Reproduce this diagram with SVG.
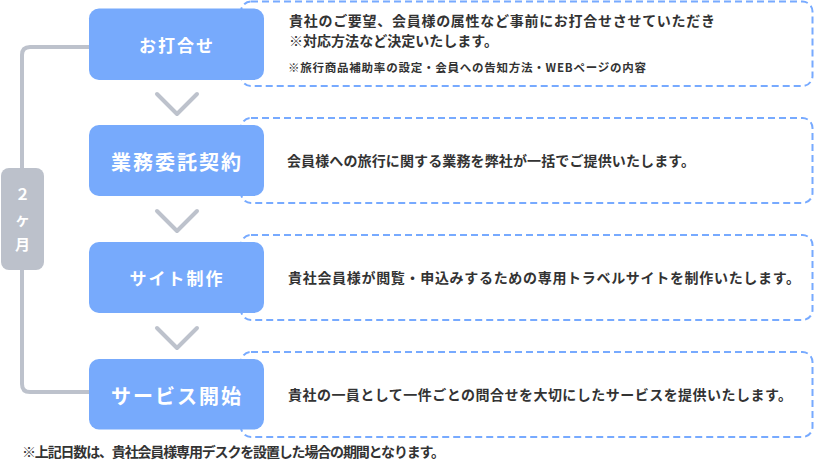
<svg xmlns="http://www.w3.org/2000/svg" width="814" height="461" viewBox="0 0 814 461">
<style>
.dash{fill:#fff;stroke:#77aaff;stroke-width:2;stroke-dasharray:7 4}
.box{fill:#77aafc}
.lbl{font-family:"Noto Sans CJK JP","Noto Sans",sans-serif;font-weight:bold;fill:#fff;text-anchor:middle;dominant-baseline:central}
.desc{font-family:"Noto Sans CJK JP","Noto Sans",sans-serif;font-weight:bold;fill:#333;font-size:14px;dominant-baseline:central}
.small{font-size:11.5px}
.conn{fill:none;stroke:#bdc2cc;stroke-width:4;stroke-linecap:round;stroke-linejoin:round}
.pilltxt{font-family:"Noto Sans CJK JP","Noto Sans",sans-serif;font-weight:bold;fill:#fff;font-size:15px;text-anchor:middle;dominant-baseline:central}
</style>
<g id="connectors">
<path class="conn" d="M89 47 H30 Q22 47 22 55 V384 Q22 392 30 392 H89"/>
<polyline class="conn" points="157,94 177,114 197,94"/>
<polyline class="conn" points="157,211 177,231 197,211"/>
<polyline class="conn" points="157,328 177,348 197,328"/>
</g>
<g id="period">
<rect x="1" y="168" width="43" height="102" rx="8" fill="#bcc1cb"/>
<text class="pilltxt" x="22.5" y="193">２</text>
<text class="pilltxt" x="22.5" y="218">ヶ</text>
<text class="pilltxt" x="22.5" y="243">月</text>
</g>
<g id="step1">
<rect class="dash" x="241" y="1.5" width="571.5" height="84.5" rx="10"/>
<rect class="box" x="89" y="8.5" width="175" height="71.5" rx="10"/>
<text class="lbl" x="177" y="44.5" font-size="17" letter-spacing="2">お打合せ</text>
<text class="desc" x="289" y="20" textLength="426" lengthAdjust="spacing">貴社のご要望、会員様の属性など事前にお打合せさせていただき</text>
<text class="desc" x="289" y="39.5" textLength="209" lengthAdjust="spacing">※対応方法など決定いたします。</text>
<text class="desc small" x="288" y="67" textLength="358" lengthAdjust="spacing">※旅行商品補助率の設定・会員への告知方法・WEBページの内容</text>
</g>
<g id="step2">
<rect class="dash" x="241" y="118" width="571.5" height="85" rx="10"/>
<rect class="box" x="89" y="125" width="175" height="71" rx="10"/>
<text class="lbl" x="177" y="161" font-size="20" letter-spacing="2">業務委託契約</text>
<text class="desc" x="287" y="160" textLength="408" lengthAdjust="spacing">会員様への旅行に関する業務を弊社が一括でご提供いたします。</text>
</g>
<g id="step3">
<rect class="dash" x="241" y="235" width="571.5" height="85" rx="10"/>
<rect class="box" x="89" y="242" width="175" height="71" rx="10"/>
<text class="lbl" x="177" y="277.5" font-size="17" letter-spacing="2">サイト制作</text>
<text class="desc" x="288" y="277" textLength="512" lengthAdjust="spacing">貴社会員様が閲覧・申込みするための専用トラベルサイトを制作いたします。</text>
</g>
<g id="step4">
<rect class="dash" x="241" y="352" width="571.5" height="85" rx="10"/>
<rect class="box" x="89" y="359" width="175" height="70.5" rx="10"/>
<text class="lbl" x="177" y="395" font-size="20" letter-spacing="2">サービス開始</text>
<text class="desc" x="288" y="394" textLength="504" lengthAdjust="spacing">貴社の一員として一件ごとの問合せを大切にしたサービスを提供いたします。</text>
</g>
<g id="footnote">
<text class="desc" x="22" y="451" font-size="12" textLength="423" lengthAdjust="spacing">※上記日数は、貴社会員様専用デスクを設置した場合の期間となります。</text>
</g>
</svg>
